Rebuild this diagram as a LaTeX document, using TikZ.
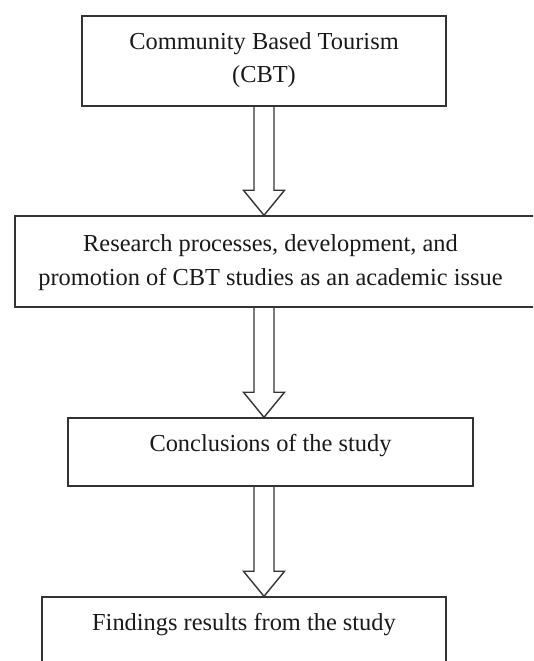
\documentclass[tikz,border=0pt]{standalone}
\usepackage{fontspec}
\setmainfont{Liberation Serif}
\usetikzlibrary{calc}

\begin{document}
\begin{tikzpicture}[x=1pt,y=1pt,
  box/.style={draw=black!80,line width=1.4pt,rectangle,inner sep=0pt},
  txt/.style={font=\fontsize{24.4}{33.5}\selectfont,text=black!90,align=center,inner sep=0pt},
  blockarrow/.style={draw=black!80,line width=1.4pt,line join=miter}]
\useasboundingbox (0,0) rectangle (533,661);
\clip (0,0) rectangle (533,661);

\node[box,minimum width=364,minimum height=90] (cbt) at (264,600) {};
\node[box,minimum width=525,minimum height=91] (research) at (277.5,399.5) {};
\node[box,minimum width=405,minimum height=68] (conclusions) at (270.5,209) {};
\node[box,minimum width=404,minimum height=103] (findings) at (244,12.5) {};

\node[txt] (cbttext) at ([yshift=1pt]cbt.center) {Community Based Tourism\\(CBT)};
\node[txt] (researchtext) at ([xshift=-7pt,yshift=-1pt]research.center) {Research processes, development, and\\promotion of CBT studies as an academic issue};
\node[txt] (conclusionstext) at ([yshift=-28.5pt]conclusions.north) {Conclusions of the study};
\node[txt] (findingstext) at ([yshift=-28pt]findings.north) {Findings results from the study};

\coordinate (axis) at (264,0);
\coordinate (s1) at (cbt.south -| axis);
\coordinate (e1) at (research.north -| axis);
\coordinate (s2) at (research.south -| axis);
\coordinate (e2) at (conclusions.north -| axis);
\coordinate (s3) at (conclusions.south -| axis);
\coordinate (e3) at (findings.north -| axis);

\draw[blockarrow] ($(s1)+(-10,0)$) -- ($(e1)+(-10,25)$) -- ++(-10.5,0) -- (e1) -- ++(20.5,25) -- ++(-10.5,0) -- ($(s1)+(10,0)$);
\draw[blockarrow] ($(s2)+(-10,0)$) -- ($(e2)+(-10,25)$) -- ++(-10.5,0) -- (e2) -- ++(20.5,25) -- ++(-10.5,0) -- ($(s2)+(10,0)$);
\draw[blockarrow] ($(s3)+(-10,0)$) -- ($(e3)+(-10,25)$) -- ++(-10.5,0) -- (e3) -- ++(20.5,25) -- ++(-10.5,0) -- ($(s3)+(10,0)$);
\end{tikzpicture}
\end{document}
